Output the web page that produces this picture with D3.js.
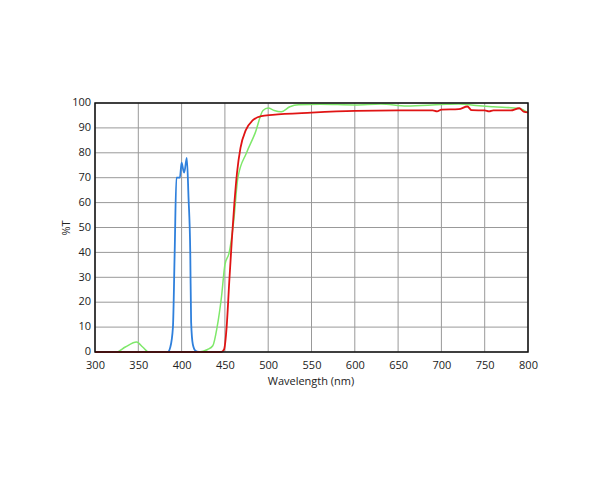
<!DOCTYPE html>
<html><head><meta charset="utf-8">
<script src="https://cdn.jsdelivr.net/npm/d3@7"></script>
<style>body{margin:0;background:#fff}text{font-family:"Open Sans",Arial,sans-serif;font-size:11px;fill:#222}</style>
</head><body><svg id="c" width="600" height="480"></svg>
<script>
var xTicks = [300,350,400,450,500,550,600,650,700,750,800];
var yTicks = [0,10,20,30,40,50,60,70,80,90,100];
var blue = [[300,0],[384,0],[387,2],[390,10],[392,40],[394,70],[398,70],[400,76],[402,73],[403,72],[406,78],[408,62],[410,40],[411,12],[413,3],[416,0.5],[420,0]];
var green = [[300,0],[325,0],[335,2],[348,4],[355,2],[362,0],[420,0],[430,1],[436,2.5],[441,10],[446,22],[450,35],[455,40],[460,52],[465,70],[475,80],[485,88],[494,97],[500,98],[507,97],[515,96.5],[525,98.5],[535,99.3],[560,99.5],[600,99.2],[630,99.6],[660,98.8],[700,99.4],[720,99.6],[740,99],[760,98.5],[790,97.8],[800,96]];
var red = [[300,0],[446,0],[449,1],[452,10],[455,28],[458,45],[461,60],[464,72],[468,82],[474,89],[482,93],[492,94.7],[505,95.2],[550,96.1],[600,96.8],[650,97],[690,97],[695,96.6],[700,97.3],[720,97.5],[730,98.6],[735,97.1],[750,97],[755,96.6],[760,97],[780,97],[790,97.9],[795,96.5],[800,96.2]];

var svg = d3.select("#c");
var x = d3.scaleLinear().domain([300,800]).range([95,528]);
var y = d3.scaleLinear().domain([0,100]).range([352,103]);

svg.append("g").selectAll("line").data(xTicks).join("line")
	.attr("x1",x).attr("x2",x).attr("y1",y(100)).attr("y2",y(0))
	.attr("stroke","#999").attr("stroke-width",1);
svg.append("g").selectAll("line").data(yTicks).join("line")
	.attr("x1",x(300)).attr("x2",x(800)).attr("y1",y).attr("y2",y)
	.attr("stroke","#999").attr("stroke-width",1);

var line = d3.line().x(function(d){return x(d[0]);}).y(function(d){return y(d[1]);}).curve(d3.curveMonotoneX);
svg.append("path").datum(green).attr("d",line).attr("fill","none").attr("stroke","#7ee86a").attr("stroke-width",1.5);
svg.append("path").datum(blue).attr("d",line).attr("fill","none").attr("stroke","#2f80dc").attr("stroke-width",1.8);
svg.append("path").datum(red).attr("d",line).attr("fill","none").attr("stroke","#e01414").attr("stroke-width",1.8);

svg.append("rect").attr("x",x(300)).attr("y",y(100)).attr("width",x(800)-x(300)).attr("height",y(0)-y(100))
	.attr("fill","none").attr("stroke","#111").attr("stroke-width",1.5);

var xa = svg.append("g").attr("transform","translate(0,"+y(0)+")")
	.call(d3.axisBottom(x).tickValues(xTicks).tickSize(0).tickPadding(9));
var ya = svg.append("g").attr("transform","translate("+x(300)+",0)")
	.call(d3.axisLeft(y).tickValues(yTicks).tickSize(0).tickPadding(4));
xa.select(".domain").remove(); ya.select(".domain").remove();
svg.selectAll(".tick text").attr("font-size",11).attr("fill","#222");
ya.selectAll(".tick text").attr("dy","0.25em");

svg.append("text").attr("x",311).attr("y",385).attr("text-anchor","middle").text("Wavelength (nm)");
svg.append("text").attr("transform","translate(70,228) rotate(-90)").attr("text-anchor","middle").text("%T");
</script></body></html>
